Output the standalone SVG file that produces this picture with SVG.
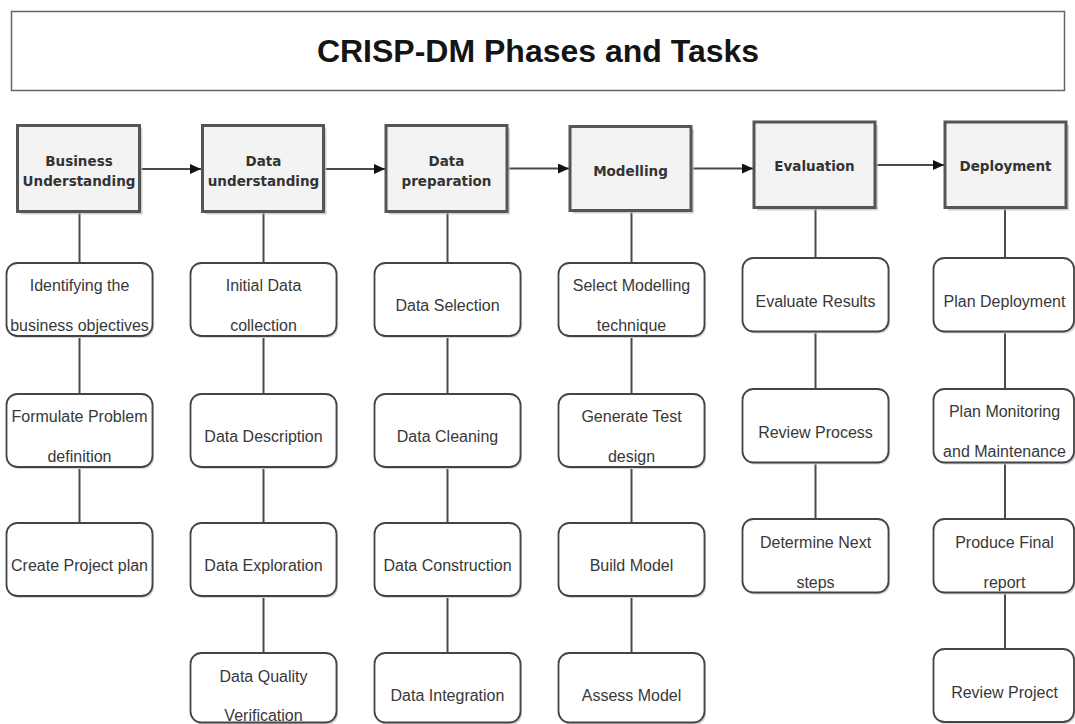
<svg xmlns="http://www.w3.org/2000/svg" width="1075" height="724" viewBox="0 0 1075 724">
  <defs>
    <style>
      .title-box { fill: #ffffff; stroke: #666666; stroke-width: 1.5; }
      .title { font-family: "Liberation Sans", Arial, sans-serif; font-weight: bold; font-size: 32px; fill: #141414; text-anchor: middle; }
      .phase rect.shadow { fill: #bdbdbd; stroke: none; opacity: 0.7; }
      .phase rect.box { fill: #f3f3f3; stroke: #555555; stroke-width: 3; }
      .phase text { font-family: "DejaVu Sans", Verdana, sans-serif; font-weight: bold; font-size: 13.5px; fill: #333333; text-anchor: middle; }
      .task rect.shadow { fill: #d6d6d6; stroke: none; }
      .task rect.box { fill: #ffffff; stroke: #444444; stroke-width: 1.8; }
      .task text { font-family: "Liberation Sans", Arial, sans-serif; font-size: 16px; fill: #383838; text-anchor: middle; }
      .flow { stroke: #4a4a4a; stroke-width: 1.8; fill: none; }
      .link { stroke: #4a4a4a; stroke-width: 2; fill: none; }
    </style>
    <marker id="arrow" markerUnits="userSpaceOnUse" markerWidth="12" markerHeight="10" refX="11" refY="5" orient="auto">
      <path d="M0,0 L11,5 L0,10 Z" fill="#111111"/>
    </marker>
  </defs>

  <!-- Title banner -->
  <g id="title">
    <rect class="title-box" x="11.5" y="11.5" width="1053" height="79"/>
    <text class="title" x="538" y="62">CRISP-DM Phases and Tasks</text>
  </g>

  <!-- Connectors: phase flow arrows and phase-to-task links -->
  <g id="connectors">
    <line class="flow" x1="141" y1="169" x2="201" y2="169" marker-end="url(#arrow)"/>
    <line class="flow" x1="325" y1="169" x2="385" y2="169" marker-end="url(#arrow)"/>
    <line class="flow" x1="508" y1="168.5" x2="569" y2="168.5" marker-end="url(#arrow)"/>
    <line class="flow" x1="692" y1="168.5" x2="753" y2="168.5" marker-end="url(#arrow)"/>
    <line class="flow" x1="876" y1="165" x2="944" y2="165" marker-end="url(#arrow)"/>

    <!-- Business Understanding column -->
    <line class="link" x1="79.5" y1="213" x2="79.5" y2="263"/>
    <line class="link" x1="79.5" y1="336" x2="79.5" y2="394"/>
    <line class="link" x1="79.5" y1="467" x2="79.5" y2="523"/>
    <!-- Data understanding column -->
    <line class="link" x1="263.5" y1="213" x2="263.5" y2="263"/>
    <line class="link" x1="263.5" y1="336" x2="263.5" y2="394"/>
    <line class="link" x1="263.5" y1="467" x2="263.5" y2="523"/>
    <line class="link" x1="263.5" y1="596" x2="263.5" y2="653"/>
    <!-- Data preparation column -->
    <line class="link" x1="447.5" y1="213" x2="447.5" y2="263"/>
    <line class="link" x1="447.5" y1="336" x2="447.5" y2="394"/>
    <line class="link" x1="447.5" y1="467" x2="447.5" y2="523"/>
    <line class="link" x1="447.5" y1="596" x2="447.5" y2="653"/>
    <!-- Modelling column -->
    <line class="link" x1="631.5" y1="212" x2="631.5" y2="263"/>
    <line class="link" x1="631.5" y1="336" x2="631.5" y2="394"/>
    <line class="link" x1="631.5" y1="467" x2="631.5" y2="523"/>
    <line class="link" x1="631.5" y1="596" x2="631.5" y2="653"/>
    <!-- Evaluation column -->
    <line class="link" x1="815.5" y1="209" x2="815.5" y2="258"/>
    <line class="link" x1="815.5" y1="331" x2="815.5" y2="389"/>
    <line class="link" x1="815.5" y1="462" x2="815.5" y2="519"/>
    <!-- Deployment column -->
    <line class="link" x1="1005" y1="209" x2="1005" y2="258"/>
    <line class="link" x1="1005" y1="331" x2="1005" y2="389"/>
    <line class="link" x1="1005" y1="462" x2="1005" y2="519"/>
    <line class="link" x1="1005" y1="592" x2="1005" y2="649"/>
  </g>

  <!-- Phases -->
  <g id="phase-business" class="phase">
    <rect class="shadow" x="20.5" y="128.5" width="122" height="86"/>
    <rect class="box" x="17.5" y="125.5" width="122" height="86"/>
    <text x="79" y="165.5">Business</text>
    <text x="79" y="185.5">Understanding</text>
  </g>
  <g id="phase-data-understanding" class="phase">
    <rect class="shadow" x="205.5" y="128.5" width="121" height="86"/>
    <rect class="box" x="202.5" y="125.5" width="121" height="86"/>
    <text x="263.5" y="165.5">Data</text>
    <text x="263.5" y="185.5">understanding</text>
  </g>
  <g id="phase-data-preparation" class="phase">
    <rect class="shadow" x="389" y="128.5" width="121" height="86"/>
    <rect class="box" x="386" y="125.5" width="121" height="86"/>
    <text x="446.5" y="165.5">Data</text>
    <text x="446.5" y="185.5">preparation</text>
  </g>
  <g id="phase-modelling" class="phase">
    <rect class="shadow" x="573" y="129.5" width="121" height="84"/>
    <rect class="box" x="570" y="126.5" width="121" height="84"/>
    <text x="630.5" y="175.5">Modelling</text>
  </g>
  <g id="phase-evaluation" class="phase">
    <rect class="shadow" x="757" y="125" width="121" height="85.5"/>
    <rect class="box" x="754" y="122" width="121" height="85.5"/>
    <text x="814.5" y="170.5">Evaluation</text>
  </g>
  <g id="phase-deployment" class="phase">
    <rect class="shadow" x="948" y="125" width="121" height="85.5"/>
    <rect class="box" x="945" y="122" width="121" height="85.5"/>
    <text x="1005.5" y="170.5">Deployment</text>
  </g>

  <!-- Business Understanding tasks -->
  <g id="task-identify-objectives" class="task">
    <rect class="shadow" x="8" y="265" width="146" height="73" rx="11"/>
    <rect class="box" x="6.5" y="263" width="146" height="73" rx="11"/>
    <text x="79.5" y="290.5">Identifying the</text>
    <text x="79.5" y="330.5">business objectives</text>
  </g>
  <g id="task-problem-definition" class="task">
    <rect class="shadow" x="8" y="396" width="146" height="73" rx="11"/>
    <rect class="box" x="6.5" y="394" width="146" height="73" rx="11"/>
    <text x="79.5" y="421.5">Formulate Problem</text>
    <text x="79.5" y="461.5">definition</text>
  </g>
  <g id="task-project-plan" class="task">
    <rect class="shadow" x="8" y="525" width="146" height="73" rx="11"/>
    <rect class="box" x="6.5" y="523" width="146" height="73" rx="11"/>
    <text x="79.5" y="571">Create Project plan</text>
  </g>

  <!-- Data understanding tasks -->
  <g id="task-initial-collection" class="task">
    <rect class="shadow" x="192" y="265" width="146" height="73" rx="11"/>
    <rect class="box" x="190.5" y="263" width="146" height="73" rx="11"/>
    <text x="263.5" y="290.5">Initial Data</text>
    <text x="263.5" y="330.5">collection</text>
  </g>
  <g id="task-data-description" class="task">
    <rect class="shadow" x="192" y="396" width="146" height="73" rx="11"/>
    <rect class="box" x="190.5" y="394" width="146" height="73" rx="11"/>
    <text x="263.5" y="441.5">Data Description</text>
  </g>
  <g id="task-data-exploration" class="task">
    <rect class="shadow" x="192" y="525" width="146" height="73" rx="11"/>
    <rect class="box" x="190.5" y="523" width="146" height="73" rx="11"/>
    <text x="263.5" y="571">Data Exploration</text>
  </g>
  <g id="task-quality-verification" class="task">
    <rect class="shadow" x="192" y="655" width="146" height="70" rx="11"/>
    <rect class="box" x="190.5" y="653" width="146" height="69.5" rx="11"/>
    <text x="263.5" y="682">Data Quality</text>
    <text x="263.5" y="720.5">Verification</text>
  </g>

  <!-- Data preparation tasks -->
  <g id="task-data-selection" class="task">
    <rect class="shadow" x="376" y="265" width="146" height="73" rx="11"/>
    <rect class="box" x="374.5" y="263" width="146" height="73" rx="11"/>
    <text x="447.5" y="310.5">Data Selection</text>
  </g>
  <g id="task-data-cleaning" class="task">
    <rect class="shadow" x="376" y="396" width="146" height="73" rx="11"/>
    <rect class="box" x="374.5" y="394" width="146" height="73" rx="11"/>
    <text x="447.5" y="441.5">Data Cleaning</text>
  </g>
  <g id="task-data-construction" class="task">
    <rect class="shadow" x="376" y="525" width="146" height="73" rx="11"/>
    <rect class="box" x="374.5" y="523" width="146" height="73" rx="11"/>
    <text x="447.5" y="571">Data Construction</text>
  </g>
  <g id="task-data-integration" class="task">
    <rect class="shadow" x="376" y="655" width="146" height="70" rx="11"/>
    <rect class="box" x="374.5" y="653" width="146" height="69.5" rx="11"/>
    <text x="447.5" y="700.5">Data Integration</text>
  </g>

  <!-- Modelling tasks -->
  <g id="task-modelling-technique" class="task">
    <rect class="shadow" x="560" y="265" width="146" height="73" rx="11"/>
    <rect class="box" x="558.5" y="263" width="146" height="73" rx="11"/>
    <text x="631.5" y="290.5">Select Modelling</text>
    <text x="631.5" y="330.5">technique</text>
  </g>
  <g id="task-test-design" class="task">
    <rect class="shadow" x="560" y="396" width="146" height="73" rx="11"/>
    <rect class="box" x="558.5" y="394" width="146" height="73" rx="11"/>
    <text x="631.5" y="421.5">Generate Test</text>
    <text x="631.5" y="461.5">design</text>
  </g>
  <g id="task-build-model" class="task">
    <rect class="shadow" x="560" y="525" width="146" height="73" rx="11"/>
    <rect class="box" x="558.5" y="523" width="146" height="73" rx="11"/>
    <text x="631.5" y="571">Build Model</text>
  </g>
  <g id="task-assess-model" class="task">
    <rect class="shadow" x="560" y="655" width="146" height="70" rx="11"/>
    <rect class="box" x="558.5" y="653" width="146" height="69.5" rx="11"/>
    <text x="631.5" y="700.5">Assess Model</text>
  </g>

  <!-- Evaluation tasks -->
  <g id="task-evaluate-results" class="task">
    <rect class="shadow" x="744" y="260" width="146" height="73.5" rx="11"/>
    <rect class="box" x="742.5" y="258" width="146" height="73.5" rx="11"/>
    <text x="815.5" y="306.5">Evaluate Results</text>
  </g>
  <g id="task-review-process" class="task">
    <rect class="shadow" x="744" y="391" width="146" height="73.5" rx="11"/>
    <rect class="box" x="742.5" y="389" width="146" height="73.5" rx="11"/>
    <text x="815.5" y="437.5">Review Process</text>
  </g>
  <g id="task-next-steps" class="task">
    <rect class="shadow" x="744" y="521" width="146" height="73.5" rx="11"/>
    <rect class="box" x="742.5" y="519" width="146" height="73.5" rx="11"/>
    <text x="815.5" y="547.5">Determine Next</text>
    <text x="815.5" y="587.5">steps</text>
  </g>

  <!-- Deployment tasks -->
  <g id="task-plan-deployment" class="task">
    <rect class="shadow" x="935" y="260" width="141" height="73.5" rx="11"/>
    <rect class="box" x="933.5" y="258" width="140.5" height="73.5" rx="11"/>
    <text x="1004.5" y="306.5">Plan Deployment</text>
  </g>
  <g id="task-monitoring-maintenance" class="task">
    <rect class="shadow" x="935" y="391" width="141" height="73.5" rx="11"/>
    <rect class="box" x="933.5" y="389" width="140.5" height="73.5" rx="11"/>
    <text x="1004.5" y="416.5">Plan Monitoring</text>
    <text x="1004.5" y="456.5">and Maintenance</text>
  </g>
  <g id="task-final-report" class="task">
    <rect class="shadow" x="935" y="521" width="141" height="73.5" rx="11"/>
    <rect class="box" x="933.5" y="519" width="140.5" height="73.5" rx="11"/>
    <text x="1004.5" y="547.5">Produce Final</text>
    <text x="1004.5" y="587.5">report</text>
  </g>
  <g id="task-review-project" class="task">
    <rect class="shadow" x="935" y="651" width="141" height="73" rx="11"/>
    <rect class="box" x="933.5" y="649" width="140.5" height="73" rx="11"/>
    <text x="1004.5" y="697.5">Review Project</text>
  </g>
</svg>
